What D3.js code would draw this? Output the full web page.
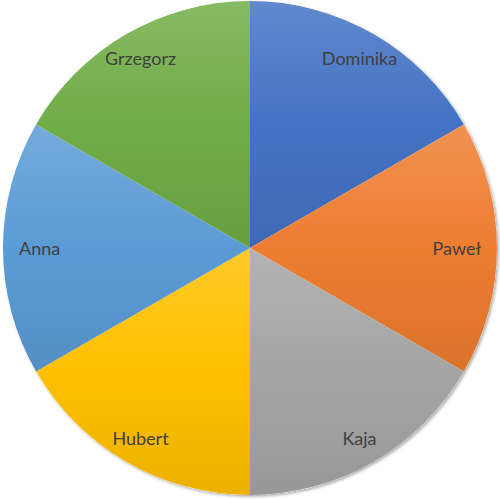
<!DOCTYPE html>
<html><head><meta charset="utf-8">
<script src="https://cdn.jsdelivr.net/npm/d3@7"></script>
<style>html,body{margin:0;padding:0;background:#fff;}</style>
</head><body>
<svg id="chart" width="500" height="500"></svg>
<script>
const categories = ["Dominika", "Paweł", "Kaja", "Hubert", "Anna", "Grzegorz"];
const values = [1, 1, 1, 1, 1, 1];
const baseColors = ["#4472C4", "#ED7D31", "#A5A5A5", "#FFC000", "#5B9BD5", "#70AD47"];

const W = 500, H = 500, cx = 250, cy = 248, R = 247;
const svg = d3.select("#chart");
const defs = svg.append("defs");

const f = defs.append("filter").attr("id", "shadow").attr("x", "-10%").attr("y", "-10%").attr("width", "120%").attr("height", "120%");
f.append("feDropShadow").attr("dx", 1.5).attr("dy", 1.5).attr("stdDeviation", 1.5).attr("flood-color", "#000").attr("flood-opacity", 0.35);

baseColors.forEach((c, i) => {
  const base = d3.rgb(c);
  const g = defs.append("linearGradient").attr("id", "grad" + i)
    .attr("x1", 0).attr("y1", 0).attr("x2", 0).attr("y2", 1);
  const light = d3.interpolateRgb(base, "#ffffff")(0.16);
  const dark = d3.interpolateRgb(base, "#000000")(0.08);
  g.append("stop").attr("offset", "0%").attr("stop-color", light);
  g.append("stop").attr("offset", "50%").attr("stop-color", base.toString());
  g.append("stop").attr("offset", "100%").attr("stop-color", dark);
});

const pie = d3.pie().sort(null).value(d => d)(values);
const arc = d3.arc().innerRadius(0).outerRadius(R);

const g = svg.append("g").attr("transform", `translate(${cx},${cy})`);
g.append("circle").attr("r", R).attr("fill", "#fff").attr("filter", "url(#shadow)");
g.selectAll("path.slice").data(pie).join("path")
  .attr("class", "slice")
  .attr("d", arc)
  .attr("fill", (d, i) => `url(#grad${i})`)
  .attr("stroke", "none");

const labelR = 219, maxX = 231;
const labels = g.selectAll("text.lbl").data(pie).join("text")
  .attr("class", "lbl")
  .attr("text-anchor", "middle")
  .attr("dominant-baseline", "central")
  .attr("font-family", "Lato, 'Open Sans', sans-serif")
  .attr("font-size", 18)
  .attr("fill", "#404040")
  .text((d, i) => categories[i]);

labels.each(function(d) {
  const a = (d.startAngle + d.endAngle) / 2;
  let x = labelR * Math.sin(a), y = -labelR * Math.cos(a);
  const hw = this.getComputedTextLength() / 2;
  if (Math.abs(x) + hw > maxX) x = Math.sign(x) * (maxX - hw);
  d3.select(this).attr("x", x).attr("y", y);
});
</script>
</body></html>
